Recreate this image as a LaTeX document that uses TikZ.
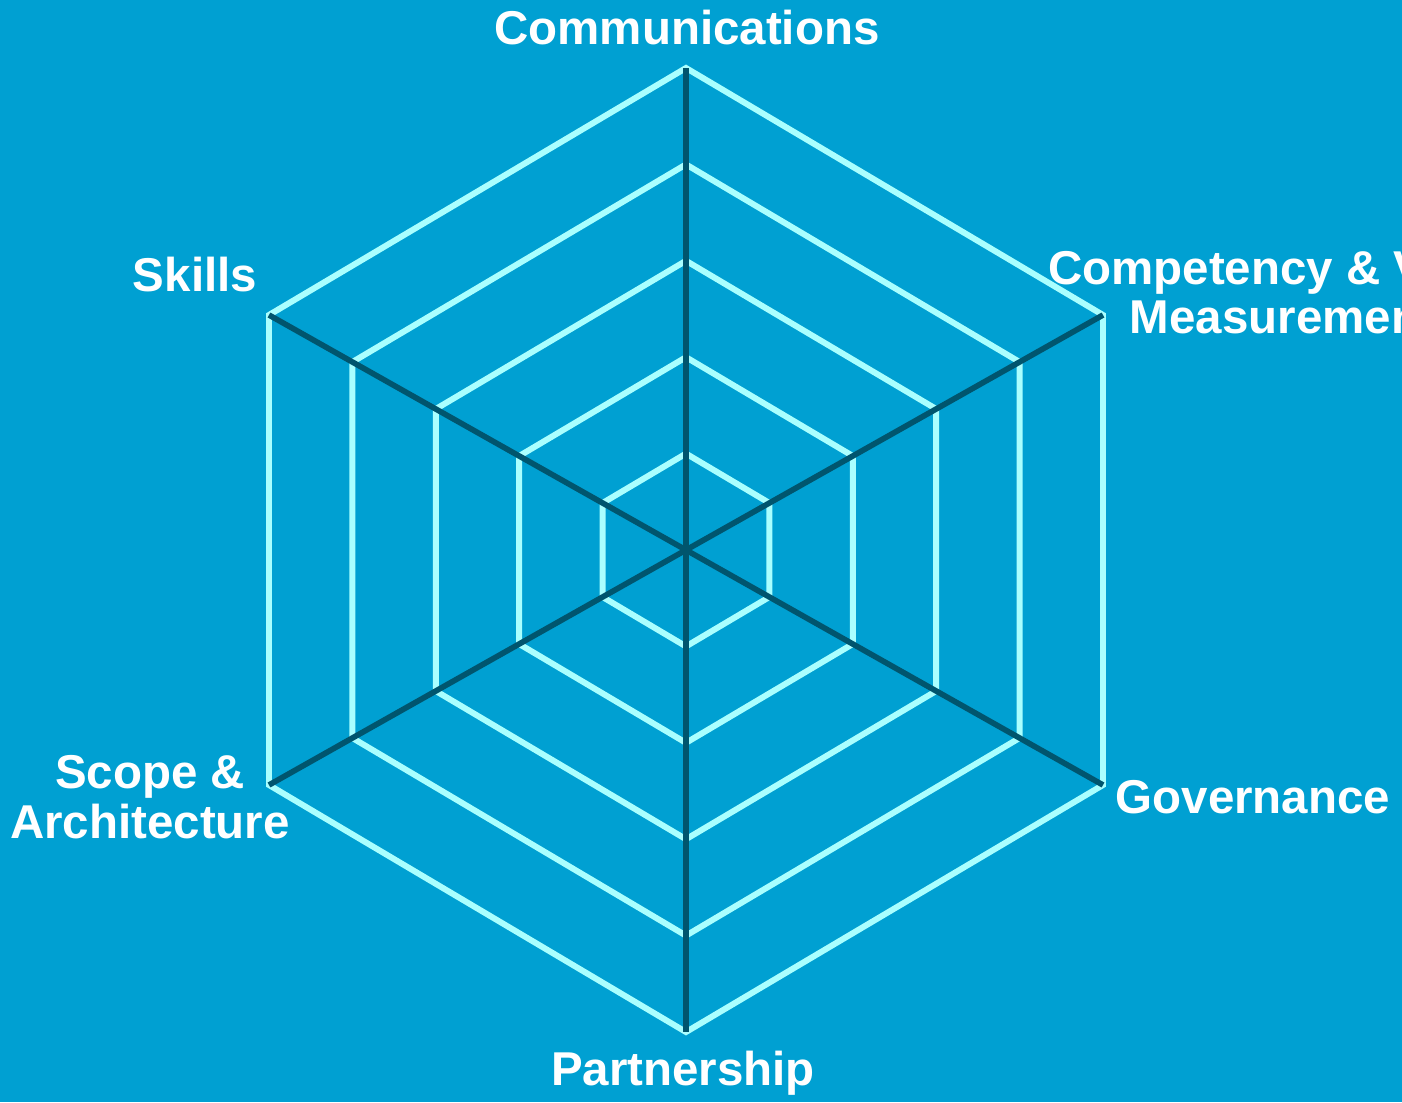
\documentclass[tikz,border=0pt]{standalone}
\usepackage{fontspec}
\setmainfont{Liberation Sans}
\usepackage{tikz}
\usetikzlibrary{positioning}
\definecolor{bgblue}{RGB}{0,160,210}
\definecolor{ringcyan}{RGB}{170,255,255}
\definecolor{axisteal}{RGB}{0,85,110}
\tikzstyle{ring} = [draw=ringcyan, line width=1.7pt]
\tikzstyle{axis} = [draw=axisteal, line width=1.6pt]
\tikzstyle{axislabel} = [text=white, font=\bfseries\fontsize{13.5}{14.2}\selectfont,
    align=center, inner sep=0pt]

\begin{document}
\begin{tikzpicture}[x=0.01cm, y=0.01cm]
    \clip (-686,-552) rectangle (716,550);
    \fill [bgblue] (-686,-552) rectangle (716,550);

    % Place nodes
    \coordinate (c) at (0,0);
    \coordinate (comm) at (0,482);
    \coordinate (compet) at (417,235);
    \coordinate (gov) at (417,-235);
    \coordinate (part) at (0,-482);
    \coordinate (scope) at (-417,-235);
    \coordinate (skills) at (-417,235);

    % Draw rings
    \foreach \k in {1,...,5}
        \path [ring, scale=\k/5] (0,482) -- (417,235) -- (417,-235) -- (0,-482)
            -- (-417,-235) -- (-417,235) -- cycle;

    % Draw edges
    \path [axis] (c) -- (comm);
    \path [axis] (c) -- (compet);
    \path [axis] (c) -- (gov);
    \path [axis] (c) -- (part);
    \path [axis] (c) -- (scope);
    \path [axis] (c) -- (skills);

    % Labels
    \node [axislabel] (communications) at (1,522) {Communications};
    \node [axislabel] (competency) at (597,258) {Competency \& Value\\Measurement};
    \node [axislabel] (skillslabel) at (-491,275) {Skills};
    \node [axislabel] (scopelabel) at (-536,-247) {Scope \&\\Architecture};
    \node [axislabel] (governance) at (567,-247) {Governance};
    \node [axislabel] (partnership) at (-3,-523) {Partnership};
\end{tikzpicture}
\end{document}
